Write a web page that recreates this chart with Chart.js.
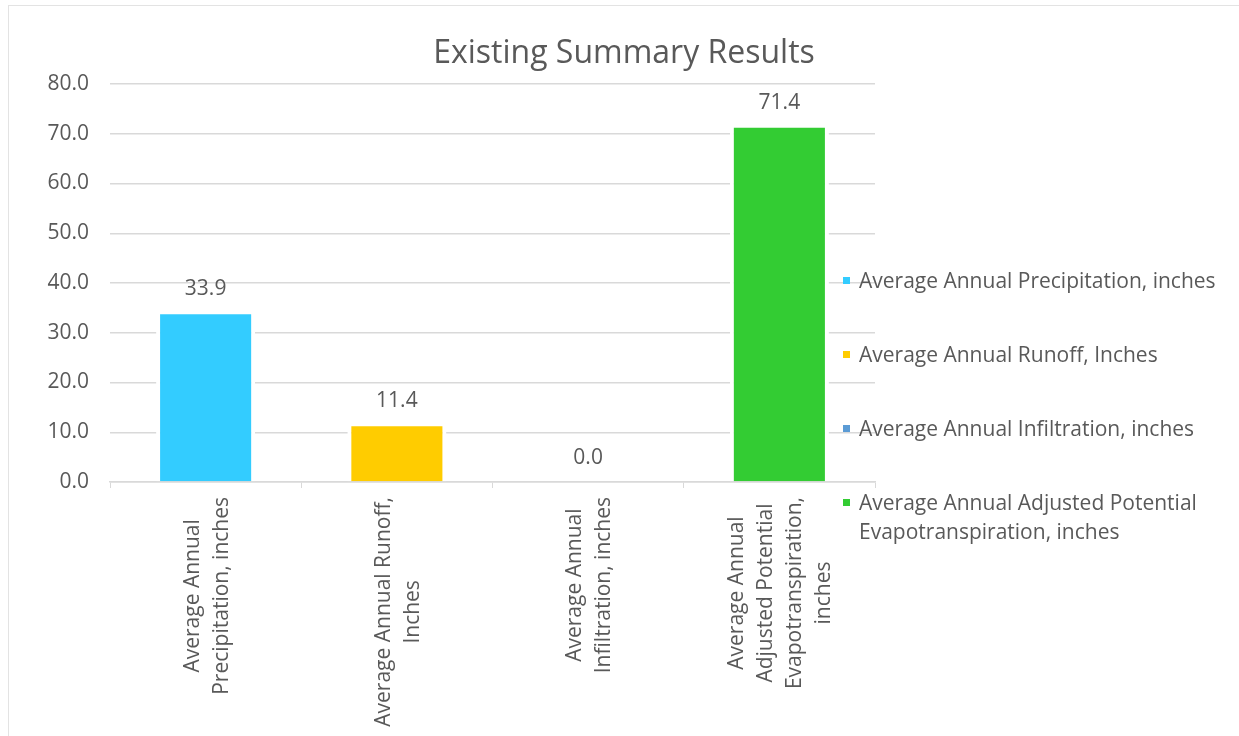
<!DOCTYPE html>
<html>
<head>
<meta charset="utf-8">
<title>Existing Summary Results</title>
<script src="https://cdn.jsdelivr.net/npm/chart.js@4.4.0/dist/chart.umd.min.js"></script>
<style>
  html, body { margin: 0; padding: 0; background: #fff; overflow: hidden; }
  #frame { position: absolute; left: 8px; top: 5px; width: 1240px; height: 740px; border: 1px solid #e3e3e3; box-sizing: border-box; }
  #wrap { position: absolute; left: 0; top: 0; width: 1239px; height: 736px; }
</style>
</head>
<body>
<div id="frame"></div>
<div id="wrap"><canvas id="summaryChart"></canvas></div>
<script>
// 数据
const chartTitle = 'Existing Summary Results';
const categories = [
    'Average Annual Precipitation, inches',
    'Average Annual Runoff, Inches',
    'Average Annual Infiltration, inches',
    'Average Annual Adjusted Potential Evapotranspiration, inches'
];
// x轴标签换行
const tickLines = [
    ['Average Annual', 'Precipitation, inches'],
    ['Average Annual Runoff,', 'Inches'],
    ['Average Annual', 'Infiltration, inches'],
    ['Average Annual', 'Adjusted Potential', 'Evapotranspiration,', 'inches']
];
// 图例换行
const legendLines = [
    ['Average Annual Precipitation, inches'],
    ['Average Annual Runoff, Inches'],
    ['Average Annual Infiltration, inches'],
    ['Average Annual Adjusted Potential', 'Evapotranspiration, inches']
];
const values = [33.9, 11.4, 0.0, 71.4];
const barColors = ['#33CCFF', '#FFCC00', '#5B9BD5', '#33CC33'];
const yTicks = [0, 10, 20, 30, 40, 50, 60, 70, 80];

const textColor = '#595959';
const gridColor = '#D9D9D9';
const fontFamily = "'Open Sans', 'Noto Sans', sans-serif";

Chart.defaults.font.family = fontFamily;
Chart.defaults.color = textColor;

// 标题、x轴标签、数值标签、图例
const summaryDecor = {
    id: 'summaryDecor',
    afterDraw(chart) {
        const ctx = chart.ctx;
        const xScale = chart.scales.x;
        const meta = chart.getDatasetMeta(0);
        ctx.save();
        ctx.fillStyle = textColor;

        // 标题
        ctx.font = '32px ' + fontFamily;
        ctx.textAlign = 'center';
        ctx.textBaseline = 'alphabetic';
        ctx.fillText(chartTitle, 624, 63);

        // 数值标签
        ctx.font = '21px ' + fontFamily;
        meta.data.forEach((bar, i) => {
            ctx.fillText(values[i].toFixed(1), bar.x, bar.y - 18);
        });

        // x轴标签（竖排，多行居中）
        const lineH = 29;
        tickLines.forEach((lines, i) => {
            const cx = xScale.getPixelForValue(i);
            const maxW = Math.max(...lines.map(l => ctx.measureText(l).width));
            ctx.save();
            ctx.translate(cx, xScale.top + 15);
            ctx.rotate(-Math.PI / 2);
            ctx.textAlign = 'center';
            lines.forEach((line, j) => {
                const off = (j - (lines.length - 1) / 2) * lineH;
                ctx.fillText(line, -maxW / 2, off + 7.5);
            });
            ctx.restore();
        });

        // 图例
        ctx.textAlign = 'left';
        const legendX = 843;
        legendLines.forEach((lines, i) => {
            const cy = 280.5 + i * 74;
            ctx.fillStyle = barColors[i];
            ctx.fillRect(legendX, cy - 3.5, 7, 7);
            ctx.fillStyle = textColor;
            lines.forEach((line, j) => {
                ctx.fillText(line, legendX + 16, cy + 7.5 + j * 29);
            });
        });
        ctx.restore();
    }
};

const summaryChart = new Chart(document.getElementById('summaryChart'), {
    type: 'bar',
    data: {
        labels: categories,
        datasets: [{
            data: values,
            backgroundColor: barColors,
            borderColor: '#FFFFFF',
            borderWidth: { left: 4, right: 4, top: 1, bottom: 0 },
            categoryPercentage: 1,
            barPercentage: 0.518
        }]
    },
    options: {
        responsive: true,
        maintainAspectRatio: false,
        animation: false,
        layout: {
            padding: { left: 0, top: 84, right: 364, bottom: 248 }
        },
        plugins: {
            legend: { display: false },
            title: { display: false },
            tooltip: { enabled: false }
        },
        scales: {
            x: {
                grid: {
                    drawOnChartArea: false,
                    drawTicks: true,
                    tickLength: 6,
                    color: gridColor
                },
                border: { display: true, color: gridColor, width: 1.5 },
                ticks: { display: false }
            },
            y: {
                min: yTicks[0],
                max: yTicks[yTicks.length - 1],
                afterFit: function(scale) { scale.width = 110; },
                afterBuildTicks: function(scale) {
                    scale.ticks = yTicks.map(v => ({ value: v }));
                },
                grid: { color: gridColor, drawTicks: false, lineWidth: 1.5 },
                border: { display: false },
                ticks: {
                    padding: 21,
                    font: { size: 21 },
                    color: textColor,
                    callback: function(value) { return Number(value).toFixed(1); }
                }
            }
        }
    },
    plugins: [summaryDecor]
});
</script>
</body>
</html>
